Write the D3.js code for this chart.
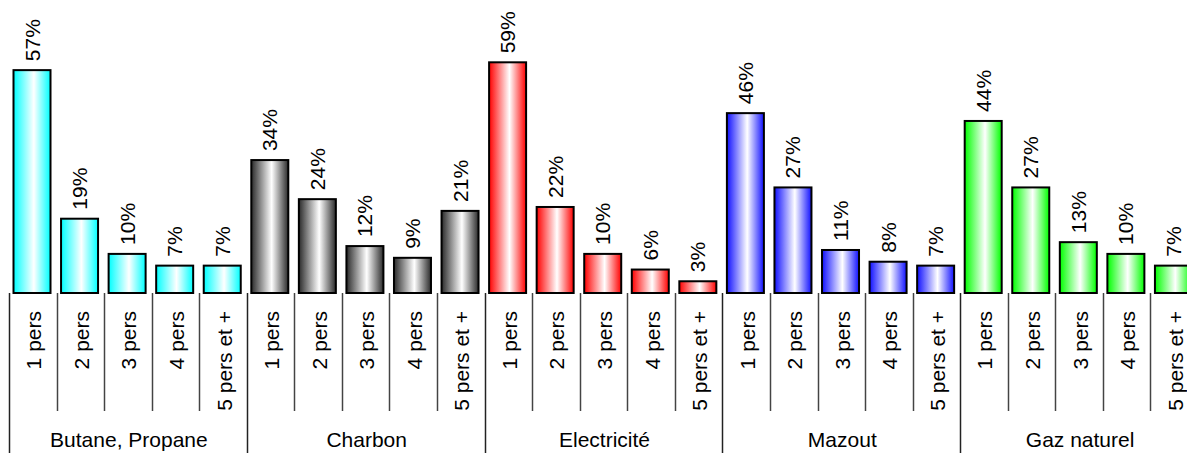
<!DOCTYPE html>
<html>
<head>
<meta charset="utf-8">
<script src="https://cdn.jsdelivr.net/npm/d3@7"></script>
<style>
  html, body { margin: 0; padding: 0; background: #fff; overflow: hidden; }
  svg { display: block; font-family: "Liberation Sans", Arial, sans-serif; }
</style>
</head>
<body>
<svg id="chart" width="1187" height="453"></svg>
<script>
// ---- data ----
const groups = ["Butane, Propane", "Charbon", "Electricité", "Mazout", "Gaz naturel"];
const sizes = ["1 pers", "2 pers", "3 pers", "4 pers", "5 pers et +"];
const butane = [57, 19, 10, 7, 7];
const charbon = [34, 24, 12, 9, 21];
const electricite = [59, 22, 10, 6, 3];
const mazout = [46, 27, 11, 8, 7];
const gaz = [44, 27, 13, 10, 7];
const seriesValues = [butane, charbon, electricite, mazout, gaz];
const groupColors = ["#00ffff", "#2a2a2a", "#ff0000", "#1010ff", "#00ff00"];

// flatten into rows
const rows = [];
groups.forEach((g, gi) => {
  sizes.forEach((s, si) => {
    rows.push({ key: gi + "|" + si, group: g, gi, size: s, value: seriesValues[gi][si] });
  });
});

const svg = d3.select("#chart");
const baseY = 293;

const x = d3.scaleBand()
  .domain(rows.map(d => d.key))
  .range([10, 1199])
  .padding(0);

const y = d3.scaleLinear().domain([0, 100]).range([baseY, baseY - 391]);

// gradients
const defs = svg.append("defs");
groupColors.forEach((c, i) => {
  const lg = defs.append("linearGradient")
    .attr("id", "grad" + i)
    .attr("x1", "0%").attr("x2", "100%").attr("y1", "0%").attr("y2", "0%");
  lg.append("stop").attr("offset", "0%").attr("stop-color", c);
  lg.append("stop").attr("offset", "55%").attr("stop-color", "#ffffff");
  lg.append("stop").attr("offset", "100%").attr("stop-color", c);
});

const bw = x.bandwidth();
const barW = 37;
const barOff = 3.5;

// bars
svg.append("g").selectAll("rect")
  .data(rows)
  .join("rect")
  .attr("x", d => x(d.key) + barOff)
  .attr("y", d => y(d.value))
  .attr("width", barW)
  .attr("height", d => baseY - y(d.value))
  .attr("fill", d => "url(#grad" + d.gi + ")")
  .attr("stroke", "#000")
  .attr("stroke-width", 2);

// value labels
svg.append("g").selectAll("text")
  .data(rows)
  .join("text")
  .attr("transform", d => `translate(${x(d.key) + barOff + barW / 2},${y(d.value) - 9}) rotate(-90)`)
  .attr("text-anchor", "start")
  .attr("dominant-baseline", "central")
  .attr("font-size", 21)
  .attr("fill", "#000")
  .text(d => d.value + "%");

// category tick lines (inner)
const axisG = svg.append("g");
rows.forEach((d, i) => {
  const xl = Math.round(x(d.key)) - 0.5;
  const isGroupStart = (i % sizes.length) === 0;
  axisG.append("line")
    .attr("x1", xl).attr("x2", xl)
    .attr("y1", baseY).attr("y2", isGroupStart ? 453 : 411)
    .attr("stroke", isGroupStart ? "#222" : "#444")
    .attr("stroke-width", 1.5);
});
// right end line
{
  const xr = Math.round(x.range()[1]) - 0.5;
  axisG.append("line").attr("x1", xr).attr("x2", xr).attr("y1", baseY).attr("y2", 453)
    .attr("stroke", "#222").attr("stroke-width", 1.5);
}

// category labels
svg.append("g").selectAll("text")
  .data(rows)
  .join("text")
  .attr("transform", d => `translate(${x(d.key) + bw / 2},311) rotate(-90)`)
  .attr("text-anchor", "end")
  .attr("dominant-baseline", "central")
  .attr("font-size", 21)
  .attr("fill", "#000")
  .text(d => d.size);

// group labels
svg.append("g").selectAll("text")
  .data(groups)
  .join("text")
  .attr("x", (g, gi) => {
    const first = x(gi + "|0");
    const last = x(gi + "|" + (sizes.length - 1)) + bw;
    return (first + last) / 2;
  })
  .attr("y", 447)
  .attr("text-anchor", "middle")
  .attr("font-size", 21)
  .attr("fill", "#000")
  .text(g => g);
</script>
</body>
</html>
